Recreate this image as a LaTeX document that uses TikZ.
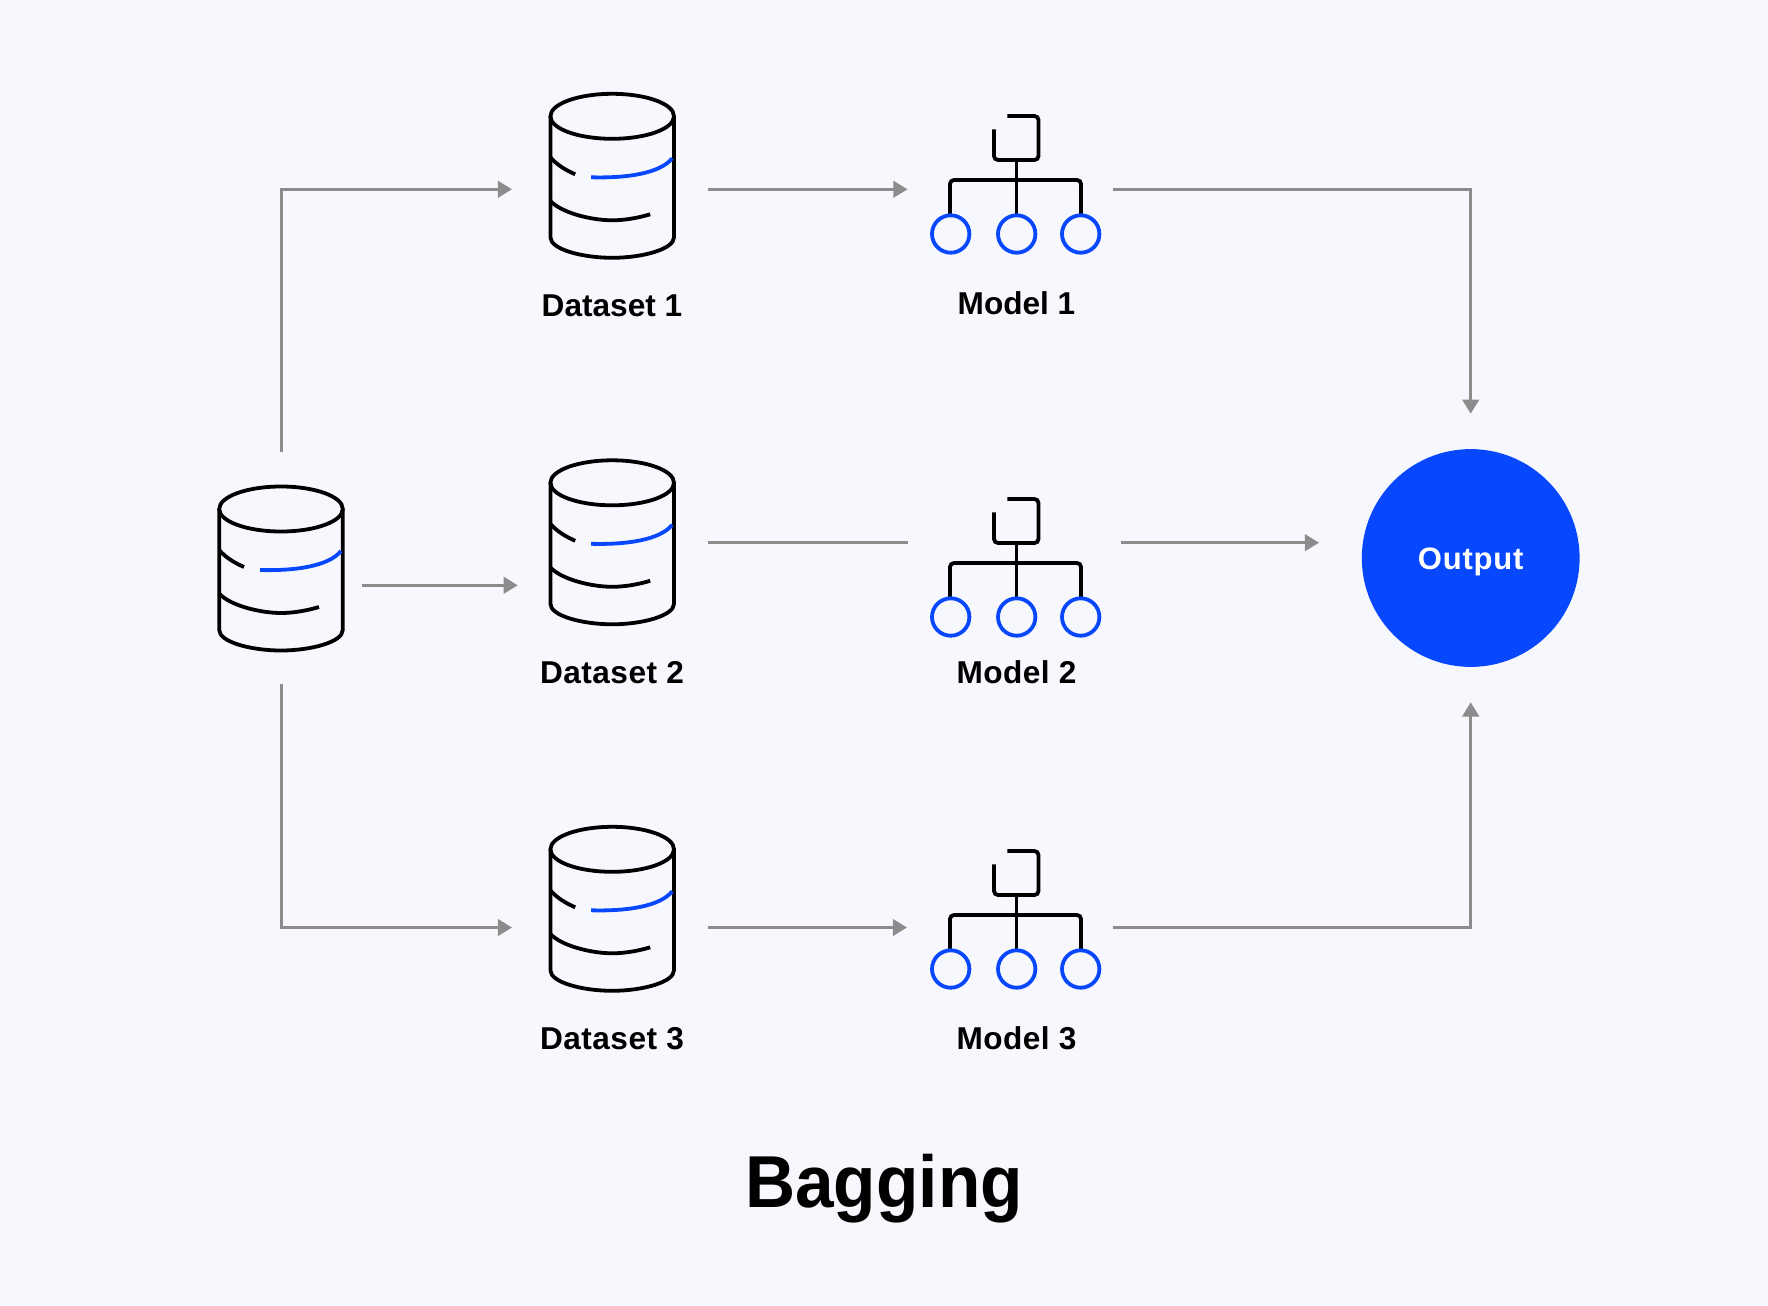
\documentclass[tikz,border=0pt]{standalone}
\usepackage{xcolor}
\usepackage{fontspec}
\setmainfont{Liberation Sans}
\newfontfamily\titlefont[FakeStretch=0.943]{Liberation Sans}
\usetikzlibrary{positioning,arrows.meta}
\definecolor{bgcol}{HTML}{F6F8FD}
\definecolor{bluecol}{HTML}{0748FF}
\definecolor{greycol}{HTML}{8C8C8C}
\tikzset{
	iconbox/.style={inner sep=0pt,outer sep=0pt},
	iconline/.style={line width=1.9pt,black},
	connline/.style={line width=1.35pt,greycol},
	conn/.style={connline,-{Triangle[length=7.1pt,width=8.3pt]}},
	itemlabel/.style={anchor=base,inner sep=0pt,font=\fontsize{15.8}{18}\selectfont\bfseries},
	widelabel/.style={itemlabel,font=\fontsize{15.8}{18}\selectfont\bfseries\addfontfeature{LetterSpace=1.5}},
	dbicon/.pic={
		\draw[iconline] (0,0) ellipse [x radius=61.8,y radius=22.5];
		\draw[iconline] (-61.8,0) -- (-61.8,121) .. controls (-61.8,133) and (-30,141.5) .. (0,141.5) .. controls (30,141.5) and (61.8,133) .. (61.8,121) -- (61.8,0);
		\draw[iconline] (-61.8,41) .. controls (-55,49) and (-46,54) .. (-37,58);
		\draw[iconline,bluecol] (-21,61) .. controls (15,62) and (48,57) .. (60,42);
		\draw[iconline] (-61.8,84.7) .. controls (-50,97) and (-20,104) .. (0,104) .. controls (14,104) and (28,101) .. (38,98);
	},
	treeicon/.pic={
		\draw[iconline,rounded corners=2pt] (-9.2,0) -- (22,0) -- (22,44) -- (-22.5,44) -- (-22.5,13.3);
		\draw[iconline,rounded corners=2pt] (-66.5,98) -- (-66.5,64) -- (64.5,64) -- (64.5,98);
		\draw[iconline] (0,44) -- (0,98);
		\draw[iconline,bluecol] (-65.8,118) circle [radius=18.7];
		\draw[iconline,bluecol] (0.2,118) circle [radius=18.7];
		\draw[iconline,bluecol] (64.2,118) circle [radius=18.7];
	}
}

\begin{document}
\begin{tikzpicture}[x=.5pt,y=-.5pt]
	\fill[bgcol] (0,0) rectangle (1768,1306);
	\useasboundingbox (0,0) rectangle (1768,1306);

	% icons
	\pic at (281,509) {dbicon};
	\pic at (612.2,116.3) {dbicon};
	\pic at (612.2,482.8) {dbicon};
	\pic at (612.2,849.3) {dbicon};
	\pic at (1016.5,116) {treeicon};
	\pic at (1016.5,499) {treeicon};
	\pic at (1016.5,851) {treeicon};

	% boxes the connectors run between
	\node (S) [iconbox,minimum width=80.2pt,minimum height=133.3pt] at (281.5,585.3) {};
	\node (D1) [iconbox,minimum width=97.85pt,minimum height=90pt] at (609.85,189.3) {};
	\node (D2) [iconbox,minimum width=95pt,minimum height=90pt] at (612.7,542.7) {};
	\node (D3) [iconbox,minimum width=97.85pt,minimum height=90pt] at (609.85,927.5) {};
	\node (M1) [iconbox,minimum width=102.75pt,minimum height=70pt] at (1010.25,189.3) {};
	\node (M2) [iconbox,minimum width=106.1pt,minimum height=70pt] at (1014.5,542.7) {};
	\node (M3) [iconbox,minimum width=102.85pt,minimum height=70pt] at (1009.85,927.5) {};
	\node (Out) [circle,fill=bluecol,inner sep=0pt,minimum size=108.9pt] at (1470.7,558) {};
	\node (OutText) [anchor=base,inner sep=0pt,white,font=\fontsize{15.5}{18}\selectfont\bfseries\addfontfeature{LetterSpace=2.5}] at (1470.7,569) {Output};

	% labels
	\node (L1) [itemlabel] at (612,316.7) {Dataset 1};
	\node (L2) [widelabel] at (612,683) {Dataset 2};
	\node (L3) [widelabel] at (612,1049.7) {Dataset 3};
	\node (N1) [itemlabel] at (1016.5,314) {Model 1};
	\node (N2) [widelabel] at (1016.5,683.3) {Model 2};
	\node (N3) [widelabel] at (1016.5,1049) {Model 3};
	\node (Title) [anchor=base,inner sep=0pt,font=\fontsize{36.8}{40}\selectfont\titlefont\bfseries] at (884,1207.7) {Bagging};

	% connectors
	\draw[conn] (S.north) |- (D1.west);
	\draw[conn] (S.east) -- (S.east -| D2.west);
	\draw[conn] ([yshift=17.3pt]S.south) |- (D3.west);
	\draw[conn] (D1.east) -- (M1.west);
	\draw[connline] (D2.east) -- (M2.west);
	\draw[conn] (D3.east) -- (M3.west);
	\draw[conn,shorten >=17.5pt] (M1.east) -| (Out.north);
	\draw[conn,shorten >=21.2pt] (M2.east) -- (M2.east -| Out.west);
	\draw[conn,shorten >=17.5pt] (M3.east) -| (Out.south);
\end{tikzpicture}
\end{document}
